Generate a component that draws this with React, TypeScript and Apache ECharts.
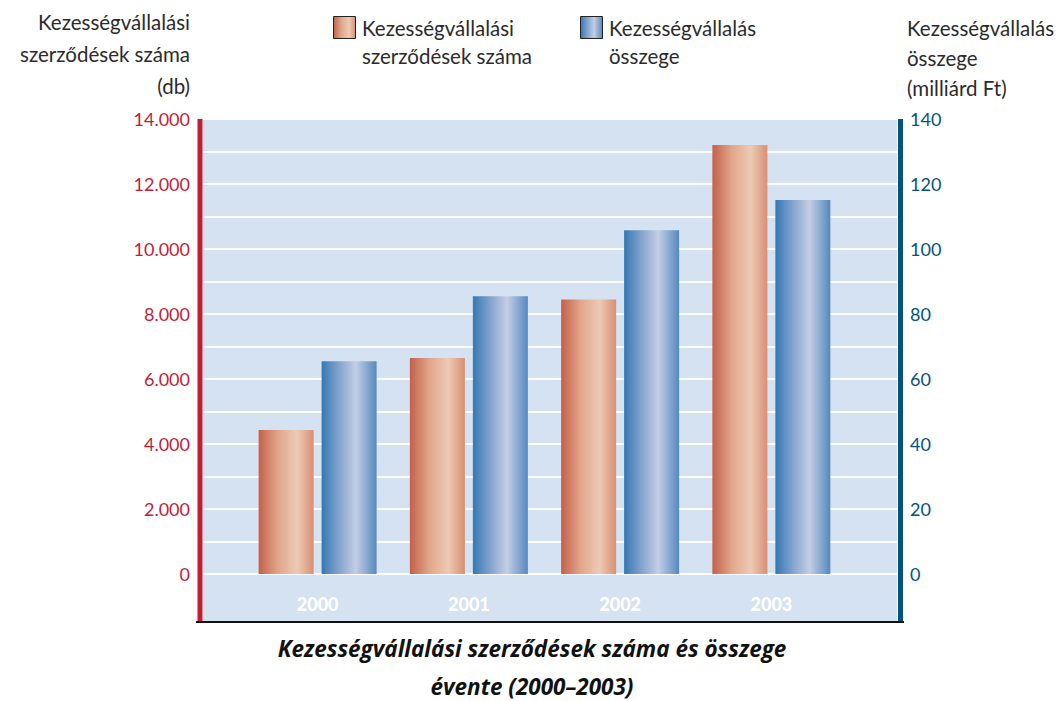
import React, { useEffect, useRef } from "react";
import * as echarts from "echarts";

const categories = ["2000", "2001", "2002", "2003"];
const contractCounts = [4430, 6650, 8450, 13200];
const guaranteeAmounts = [65.5, 85.5, 105.8, 115.1];
const leftAxisTitle = ["Kezességvállalási", "szerződések száma", "(db)"];
const rightAxisTitle = ["Kezességvállalás", "összege", "(milliárd Ft)"];
const seriesNames = ["Kezességvállalási szerződések száma", "Kezességvállalás összege"];
const legendLines = [["Kezességvállalási", "szerződések száma"], ["Kezességvállalás", "összege"]];
const chartTitle = ["Kezességvállalási szerződések száma és összege", "évente (2000–2003)"];

const FONT = "Lato";
const RED = "#bf1e36";
const BLUE = "#04527d";
const TXT = "#2b2b2b";

function textEl(text: string, x: number, y: number, align: string, size = 20.5, extra: any = {}) {
  return {
    type: "text",
    z: 50,
    x,
    y,
    style: {
      text,
      fontFamily: FONT,
      fontSize: size,
      fill: TXT,
      align,
      verticalAlign: "middle",
      ...extra,
    },
  };
}

export default function App() {
  const ref = useRef<HTMLDivElement>(null);
  useEffect(() => {
    if (!ref.current) return;
    const chart = echarts.init(ref.current, null, { renderer: "svg" });
    const redGrad = () =>
      new echarts.graphic.LinearGradient(0, 0, 1, 0, [
        { offset: 0, color: "#c3604a" },
        { offset: 0.35, color: "#e0a68b" },
        { offset: 0.7, color: "#edcab5" },
        { offset: 1, color: "#d88f72" },
      ]);
    const blueGrad = () =>
      new echarts.graphic.LinearGradient(0, 0, 1, 0, [
        { offset: 0, color: "#3478b4" },
        { offset: 0.3, color: "#7fa1cb" },
        { offset: 0.62, color: "#c4cee5" },
        { offset: 1, color: "#5688bf" },
      ]);
    const fmtThousands = (v: number) =>
      v % 2000 === 0 ? String(v).replace(/\B(?=(\d{3})+(?!\d))/g, ".") : "";
    const texts: any[] = [];
    legendLines[0].forEach((t, i) => texts.push(textEl(t, 362, 28 + i * 28, "left")));
    legendLines[1].forEach((t, i) => texts.push(textEl(t, 609, 28 + i * 28, "left")));
    leftAxisTitle.forEach((t, i) => texts.push(textEl(t, 190, 22 + i * 32, "right")));
    rightAxisTitle.forEach((t, i) => texts.push(textEl(t, 907, 28 + i * 30, "left")));
    chartTitle.forEach((t, i) =>
      texts.push(
        textEl(t, 532, 648 + i * 38, "center", 22.5, {
          fontFamily: "'Open Sans'",
          fontStyle: "italic",
          fontWeight: "bold",
          fill: "#111",
        })
      )
    );
    chart.setOption({
      animation: false,
      grid: [
        { left: 203, width: 694, top: 119, height: 455 },
        { left: 242, width: 605, top: 119, height: 455 },
      ],
      xAxis: [
        { type: "category", gridIndex: 0, data: categories, show: false },
        {
          type: "category",
          gridIndex: 1,
          data: categories,
          axisLine: { show: false },
          axisTick: { show: false },
          axisLabel: {
            color: "#ffffff",
            fontFamily: FONT,
            fontWeight: 900,
            fontSize: 18,
            margin: 21,
          },
        },
      ],
      yAxis: [
        {
          type: "value",
          gridIndex: 0,
          position: "left",
          min: 0,
          max: 14000,
          interval: 1000,
          axisLine: { show: false },
          axisTick: { show: false },
          splitLine: { lineStyle: { color: "#ffffff", width: 2 } },
          axisLabel: {
            color: RED,
            fontFamily: FONT,
            fontSize: 18,
            margin: 13,
            formatter: fmtThousands,
          },
        },
        {
          type: "value",
          gridIndex: 0,
          position: "right",
          min: 0,
          max: 140,
          interval: 10,
          axisLine: { show: false },
          axisTick: { show: false },
          splitLine: { show: false },
          axisLabel: {
            color: BLUE,
            fontFamily: FONT,
            fontSize: 18,
            margin: 13,
            formatter: (v: number) => (v % 20 === 0 ? String(v) : ""),
          },
        },
        { type: "value", gridIndex: 1, min: 0, max: 14000, show: false, splitLine: { show: false } },
        { type: "value", gridIndex: 1, min: 0, max: 140, show: false, splitLine: { show: false } },
      ],
      series: [
        {
          type: "bar",
          name: seriesNames[0],
          xAxisIndex: 1,
          yAxisIndex: 2,
          data: contractCounts,
          barWidth: 55,
          barGap: "14.5%",
          itemStyle: { color: redGrad() },
          z: 5,
        },
        {
          type: "bar",
          name: seriesNames[1],
          xAxisIndex: 1,
          yAxisIndex: 3,
          data: guaranteeAmounts,
          barWidth: 55,
          barGap: "14.5%",
          itemStyle: { color: blueGrad() },
          z: 5,
        },
      ],
      graphic: [
        { type: "rect", z: -10, shape: { x: 203, y: 119, width: 694, height: 503 }, style: { fill: "#d5e2f1" } },
        { type: "rect", z: 50, shape: { x: 197.5, y: 119, width: 5, height: 503 }, style: { fill: RED } },
        { type: "rect", z: 50, shape: { x: 898, y: 119, width: 5, height: 503 }, style: { fill: BLUE } },
        { type: "line", z: 50, shape: { x1: 196, y1: 622, x2: 904, y2: 622 }, style: { stroke: "#111", lineWidth: 2 } },
        { type: "rect", z: 50, shape: { x: 333.5, y: 16.5, width: 22, height: 22 }, style: { fill: redGrad(), stroke: "#222", lineWidth: 1 } },
        { type: "rect", z: 50, shape: { x: 580.5, y: 16.5, width: 22, height: 22 }, style: { fill: blueGrad(), stroke: "#222", lineWidth: 1 } },
        ...texts,
      ],
    });
    return () => chart.dispose();
  }, []);
  return (
    <div
      ref={ref}
      style={{ position: "absolute", left: 0, top: 0, width: 1061, height: 701, overflow: "hidden" }}
    />
  );
}
